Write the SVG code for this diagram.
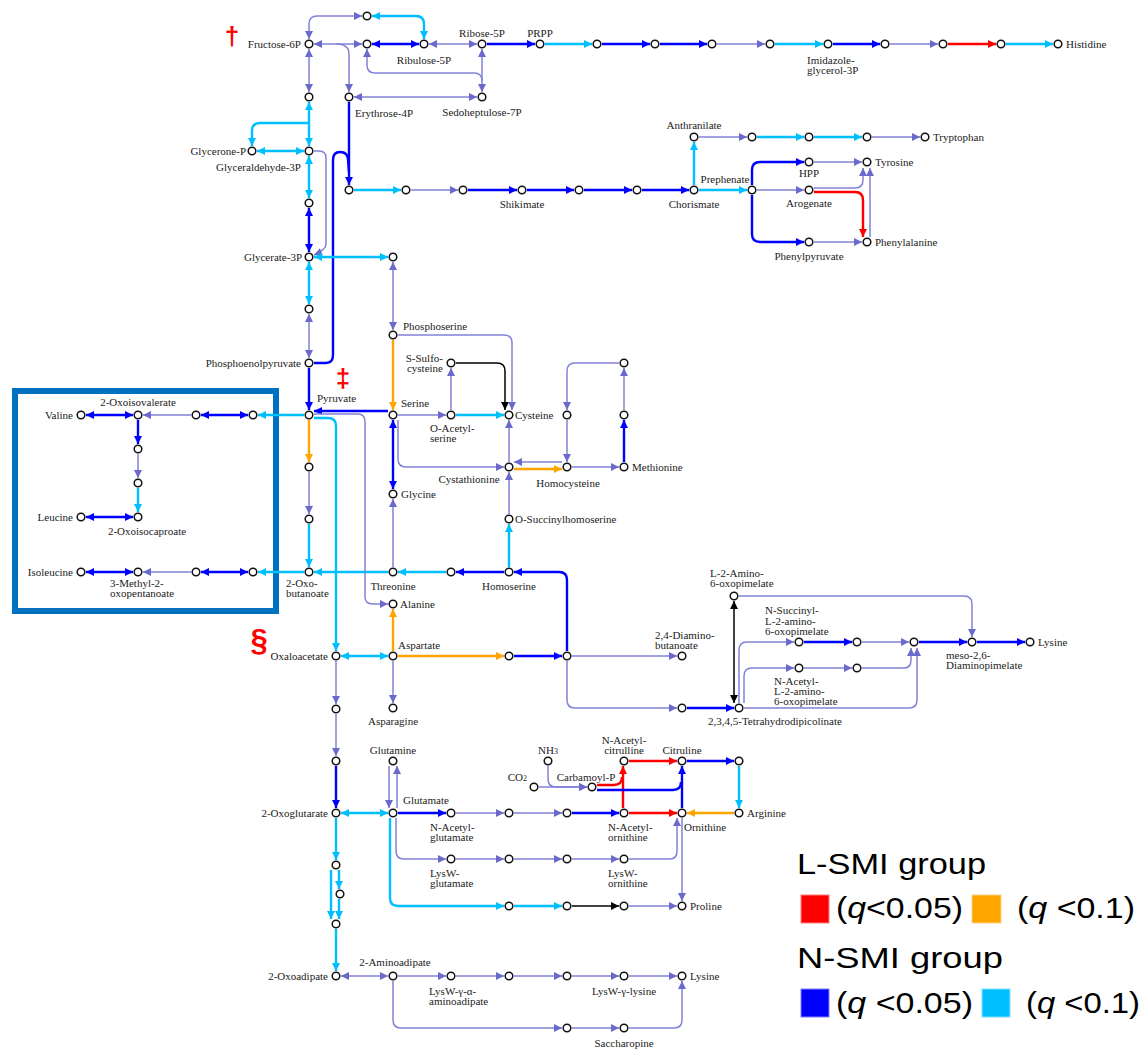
<svg xmlns="http://www.w3.org/2000/svg" width="1148" height="1049" viewBox="0 0 1148 1049">
<style>
.p{stroke:#8282d8;stroke-width:1.5;fill:none;marker-end:url(#aP)}
.b{stroke:#0000ff;stroke-width:2.4;fill:none;marker-end:url(#aB)}
.c{stroke:#00bfff;stroke-width:2.4;fill:none;marker-end:url(#aC)}
.r{stroke:#ff0000;stroke-width:2.4;fill:none;marker-end:url(#aR)}
.o{stroke:#ffa500;stroke-width:2.4;fill:none;marker-end:url(#aO)}
.k{stroke:#000;stroke-width:1.5;fill:none;marker-end:url(#aK)}
.p.bi{marker-start:url(#aP)}
.b.bi{marker-start:url(#aB)}
.c.bi{marker-start:url(#aC)}
.k.bi{marker-start:url(#aK)}
.ne{marker-end:none}
circle{fill:#fff;stroke:#111;stroke-width:1.5}
text{font-family:"Liberation Serif",serif;font-size:11px;fill:#222}
.e{text-anchor:end}
.m{text-anchor:middle}
text.sym{font-family:"Liberation Sans",sans-serif;fill:#ff0000;text-anchor:middle;font-weight:bold}
text.s1{font-size:26px}
text.s2{font-size:31px}
text.lg{font-family:"Liberation Sans",sans-serif;font-size:30px;fill:#000}
</style>
<defs>
<marker id="aP" viewBox="0 0 10 10" refX="10" refY="5" markerWidth="9" markerHeight="8" markerUnits="userSpaceOnUse" orient="auto-start-reverse"><path d="M0,0 L10,5 L0,10 z" fill="#6a6acd"/></marker>
<marker id="aB" viewBox="0 0 10 10" refX="10" refY="5" markerWidth="9" markerHeight="8" markerUnits="userSpaceOnUse" orient="auto-start-reverse"><path d="M0,0 L10,5 L0,10 z" fill="#0000ff"/></marker>
<marker id="aC" viewBox="0 0 10 10" refX="10" refY="5" markerWidth="9" markerHeight="8" markerUnits="userSpaceOnUse" orient="auto-start-reverse"><path d="M0,0 L10,5 L0,10 z" fill="#00bfff"/></marker>
<marker id="aR" viewBox="0 0 10 10" refX="10" refY="5" markerWidth="9" markerHeight="8" markerUnits="userSpaceOnUse" orient="auto-start-reverse"><path d="M0,0 L10,5 L0,10 z" fill="#ff0000"/></marker>
<marker id="aO" viewBox="0 0 10 10" refX="10" refY="5" markerWidth="9" markerHeight="8" markerUnits="userSpaceOnUse" orient="auto-start-reverse"><path d="M0,0 L10,5 L0,10 z" fill="#ffa500"/></marker>
<marker id="aK" viewBox="0 0 10 10" refX="10" refY="5" markerWidth="9" markerHeight="8" markerUnits="userSpaceOnUse" orient="auto-start-reverse"><path d="M0,0 L10,5 L0,10 z" fill="#000"/></marker>
</defs>
<rect width="1148" height="1049" fill="#fff"/>
<rect id="bcaa-box" x="15" y="391" width="261" height="220" fill="none" stroke="#0070c0" stroke-width="6"/>
<g id="connectors">
<path class="p bi" d="M309,39 L309,24 Q309,16 317,16 L362,16"/>
<path class="c bi" d="M372,16 L416,16 Q424,16 424,24 L424,39"/>
<path class="p bi" d="M314,44 L362,44"/>
<path class="p" d="M336,44 Q349,44 349,54 L349,92"/>
<path class="b bi" d="M372,44 L419,44"/>
<path class="p bi" d="M429,44 L477,44"/>
<path class="b" d="M487,44 L535,44"/>
<path class="c" d="M545,44 L592,44"/>
<path class="b" d="M602,44 L650,44"/>
<path class="b" d="M660,44 L707,44"/>
<path class="p" d="M717,44 L765,44"/>
<path class="c" d="M775,44 L823,44"/>
<path class="b" d="M833,44 L880,44"/>
<path class="p" d="M890,44 L938,44"/>
<path class="r" d="M948,44 L996,44"/>
<path class="c" d="M1006,44 L1053,44"/>
<path class="p bi" d="M482,49 L482,92"/>
<path class="p bi ne" d="M367,49 L367,65 Q367,73 375,73 L474,73 Q482,73 482,81"/>
<path class="p bi" d="M354,97 L477,97"/>
<path class="p bi" d="M309,49 L309,92"/>
<path class="c bi" d="M309,102 L309,146"/>
<path class="c" d="M309,123 L260,123 Q252,123 252,131 L252,146"/>
<path class="c bi" d="M257,151 L304,151"/>
<path class="c bi" d="M309,156 L309,198"/>
<path class="b bi" d="M309,208 L309,252"/>
<path class="p" d="M314,151 L319,151 Q326,151 326,158 L326,244 Q326,250 314,255"/>
<path class="b" d="M349,102 L349,185"/>
<path class="b ne" d="M314,363 L326,363 Q333,363 333,355 L333,160 Q333,152 340,152 Q348,152 348,160 L349,172"/>
<path class="c" d="M354,190 L401,190"/>
<path class="p" d="M411,190 L458,190"/>
<path class="b" d="M468,190 L517,190"/>
<path class="b" d="M527,190 L574,190"/>
<path class="b" d="M584,190 L632,190"/>
<path class="b" d="M642,190 L689,190"/>
<path class="c" d="M699,190 L747,190"/>
<path class="c" d="M694,185 L694,142"/>
<path class="p" d="M699,137 L747,137"/>
<path class="c" d="M757,137 L804,137"/>
<path class="c" d="M814,137 L862,137"/>
<path class="p" d="M872,137 L920,137"/>
<path class="b" d="M752,185 L752,170 Q752,162 760,162 L804,162"/>
<path class="b" d="M752,195 L752,234 Q752,242 760,242 L804,242"/>
<path class="p" d="M757,190 L804,190"/>
<path class="p" d="M814,162 L862,162"/>
<path class="p" d="M814,188 L855,188 Q863,188 863,180 L863,168"/>
<path class="r" d="M814,192 L855,192 Q863,192 863,200 L863,237"/>
<path class="p" d="M870,237 L870,168"/>
<path class="p" d="M814,242 L862,242"/>
<path class="c bi" d="M309,262 L309,304"/>
<path class="p bi" d="M309,314 L309,358"/>
<path class="c bi" d="M314,257 L388,257"/>
<path class="p bi" d="M393,262 L393,330"/>
<path class="b" d="M309,368 L309,410"/>
<path class="b" d="M388,411 L314,411"/>
<path class="c" d="M304,415 L258,415"/>
<path class="b bi" d="M248,415 L201,415"/>
<path class="p" d="M191,415 L143,415"/>
<path class="b bi" d="M133,415 L86,415"/>
<path class="b" d="M138,420 L138,444"/>
<path class="p" d="M138,454 L138,478"/>
<path class="c" d="M138,488 L138,512"/>
<path class="b bi" d="M133,517 L86,517"/>
<path class="o" d="M309,420 L309,462"/>
<path class="p" d="M309,472 L309,514"/>
<path class="c" d="M309,524 L309,567"/>
<path class="c" d="M304,572 L258,572"/>
<path class="b bi" d="M248,572 L201,572"/>
<path class="p" d="M191,572 L143,572"/>
<path class="b bi" d="M133,572 L86,572"/>
<path class="c" d="M388,572 L314,572"/>
<path class="c" d="M314,418 L328,418 Q336,418 336,426 L336,651"/>
<path class="p" d="M314,414 L358,414 Q365,414 365,422 L365,597 Q365,604 373,604 L388,604"/>
<path class="o" d="M393,340 L393,410"/>
<path class="p" d="M398,415 L446,415"/>
<path class="c" d="M456,415 L504,415"/>
<path class="p" d="M451,410 L451,368"/>
<path class="k" d="M456,363 L497,363 Q505,363 505,371 L505,410"/>
<path class="p" d="M398,335 L504,335 Q512,335 512,343 L512,410"/>
<path class="b bi" d="M393,420 L393,489"/>
<path class="p" d="M398,420 L398,459 Q398,467 406,467 L504,467"/>
<path class="p" d="M509,462 L509,420"/>
<path class="o" d="M514,469 L562,469"/>
<path class="p" d="M562,462 L514,462"/>
<path class="p" d="M572,467 L619,467"/>
<path class="b" d="M624,462 L624,420"/>
<path class="p" d="M624,410 L624,368"/>
<path class="p" d="M619,363 L575,363 Q567,363 567,371 L567,410"/>
<path class="p" d="M567,420 L567,462"/>
<path class="p" d="M509,514 L509,472"/>
<path class="c" d="M509,567 L509,524"/>
<path class="b" d="M504,572 L456,572"/>
<path class="c" d="M446,572 L398,572"/>
<path class="p" d="M393,567 L393,499"/>
<path class="b" d="M567,651 L567,580 Q567,572 559,572 L514,572"/>
<path class="o" d="M393,651 L393,609"/>
<path class="o" d="M398,656 L504,656"/>
<path class="b" d="M514,656 L562,656"/>
<path class="p" d="M572,656 L677,656"/>
<path class="p" d="M393,661 L393,703"/>
<path class="c bi" d="M341,656 L388,656"/>
<path class="p" d="M567,661 L567,700 Q567,708 575,708 L677,708"/>
<path class="b" d="M687,708 L734,708"/>
<path class="k bi" d="M734,601 L734,703"/>
<path class="p" d="M739,596 L964,596 Q972,596 972,604 L972,637"/>
<path class="p" d="M739,703 L739,650 Q739,642 747,642 L794,642"/>
<path class="p" d="M744,703 L744,676 Q744,668 752,668 L794,668"/>
<path class="b" d="M804,642 L852,642"/>
<path class="p" d="M862,642 L909,642"/>
<path class="b" d="M919,642 L967,642"/>
<path class="b" d="M977,642 L1025,642"/>
<path class="p" d="M804,668 L852,668"/>
<path class="p" d="M862,668 L904,668 Q911,668 911,660 L911,648"/>
<path class="p" d="M744,708 L909,708 Q917,708 917,700 L917,648"/>
<path class="p" d="M336,661 L336,704"/>
<path class="p" d="M336,714 L336,756"/>
<path class="b" d="M336,766 L336,808"/>
<path class="c bi" d="M341,813 L388,813"/>
<path class="p" d="M389,766 L389,808"/>
<path class="p" d="M397,808 L397,766"/>
<path class="c" d="M336,818 L336,860"/>
<path class="c" d="M339,870 L339,889"/>
<path class="c" d="M339,899 L339,919"/>
<path class="c" d="M331,870 L331,919"/>
<path class="c" d="M336,929 L336,971"/>
<path class="p bi" d="M341,976 L388,976"/>
<path class="p" d="M398,976 L446,976"/>
<path class="p" d="M456,976 L504,976"/>
<path class="p" d="M514,976 L562,976"/>
<path class="p" d="M572,976 L619,976"/>
<path class="p" d="M629,976 L677,976"/>
<path class="p" d="M393,981 L393,1020 Q393,1028 401,1028 L562,1028"/>
<path class="p" d="M572,1028 L619,1028"/>
<path class="p" d="M629,1028 L674,1028 Q682,1028 682,1020 L682,981"/>
<path class="b" d="M398,813 L446,813"/>
<path class="p" d="M456,813 L504,813"/>
<path class="p" d="M514,813 L562,813"/>
<path class="b" d="M572,813 L619,813"/>
<path class="r" d="M629,813 L677,813"/>
<path class="o" d="M734,813 L687,813"/>
<path class="p" d="M396,818 L396,851 Q396,859 404,859 L446,859"/>
<path class="p" d="M456,859 L504,859"/>
<path class="p" d="M514,859 L562,859"/>
<path class="p" d="M572,859 L619,859"/>
<path class="p" d="M629,859 L670,859 Q677,859 677,851 L677,818"/>
<path class="c" d="M390,818 L390,898 Q390,906 398,906 L504,906"/>
<path class="c" d="M514,906 L562,906"/>
<path class="k" d="M572,906 L619,906"/>
<path class="p" d="M629,906 L677,906"/>
<path class="p" d="M682,818 L682,901"/>
<path class="r" d="M623,808 L623,766"/>
<path class="r ne" d="M597,785 L614,785 Q622,785 622,777"/>
<path class="r" d="M629,761 L677,761"/>
<path class="b" d="M682,808 L682,766"/>
<path class="b ne" d="M597,790 L673,790 Q681,790 681,782"/>
<path class="b" d="M687,761 L734,761"/>
<path class="c" d="M739,766 L739,808"/>
<path class="p" d="M548,766 L548,779 Q548,787 556,787 L587,787"/>
<path class="p" d="M539,787 L587,787"/>
</g>
<g id="nodes">
<g id="n1"><circle cx="367" cy="16" r="3.8"/></g>
<g id="fru"><circle cx="309" cy="44" r="3.8"/><text class="e" x="301" y="48">Fructose-6P</text></g>
<g id="n2"><circle cx="367" cy="44" r="3.8"/></g>
<g id="rbl"><circle cx="424" cy="44" r="3.8"/><text class="m" x="424" y="64">Ribulose-5P</text></g>
<g id="rib"><circle cx="482" cy="44" r="3.8"/><text class="m" x="482" y="37">Ribose-5P</text></g>
<g id="prpp"><circle cx="540" cy="44" r="3.8"/><text class="m" x="540" y="37">PRPP</text></g>
<g id="h1"><circle cx="597" cy="44" r="3.8"/></g>
<g id="h2"><circle cx="655" cy="44" r="3.8"/></g>
<g id="h3"><circle cx="712" cy="44" r="3.8"/></g>
<g id="h4"><circle cx="770" cy="44" r="3.8"/></g>
<g id="igp"><circle cx="828" cy="44" r="3.8"/><text x="807" y="64">Imidazole-<tspan x="807" dy="10">glycerol-3P</tspan></text></g>
<g id="h5"><circle cx="885" cy="44" r="3.8"/></g>
<g id="h6"><circle cx="943" cy="44" r="3.8"/></g>
<g id="h7"><circle cx="1001" cy="44" r="3.8"/></g>
<g id="his"><circle cx="1058" cy="44" r="3.8"/><text x="1066" y="48">Histidine</text></g>
<g id="n3"><circle cx="309" cy="97" r="3.8"/></g>
<g id="ery"><circle cx="349" cy="97" r="3.8"/><text x="355" y="117">Erythrose-4P</text></g>
<g id="sed"><circle cx="482" cy="97" r="3.8"/><text class="m" x="482" y="116">Sedoheptulose-7P</text></g>
<g id="gnp"><circle cx="252" cy="151" r="3.8"/><text class="e" x="246" y="155">Glycerone-P</text></g>
<g id="gap"><circle cx="309" cy="151" r="3.8"/><text class="e" x="301" y="171">Glyceraldehyde-3P</text></g>
<g id="s0"><circle cx="349" cy="190" r="3.8"/></g>
<g id="s1"><circle cx="406" cy="190" r="3.8"/></g>
<g id="s2"><circle cx="463" cy="190" r="3.8"/></g>
<g id="shk"><circle cx="522" cy="190" r="3.8"/><text class="m" x="522" y="208">Shikimate</text></g>
<g id="s3"><circle cx="579" cy="190" r="3.8"/></g>
<g id="s4"><circle cx="637" cy="190" r="3.8"/></g>
<g id="cho"><circle cx="694" cy="190" r="3.8"/><text class="m" x="694" y="208">Chorismate</text></g>
<g id="pre"><circle cx="752" cy="190" r="3.8"/><text class="m" x="725" y="183">Prephenate</text></g>
<g id="ant"><circle cx="694" cy="137" r="3.8"/><text class="m" x="694" y="129">Anthranilate</text></g>
<g id="t1"><circle cx="752" cy="137" r="3.8"/></g>
<g id="t2"><circle cx="809" cy="137" r="3.8"/></g>
<g id="t3"><circle cx="867" cy="137" r="3.8"/></g>
<g id="trp"><circle cx="925" cy="137" r="3.8"/><text x="933" y="141">Tryptophan</text></g>
<g id="hpp"><circle cx="809" cy="162" r="3.8"/><text class="m" x="809" y="177">HPP</text></g>
<g id="tyr"><circle cx="867" cy="162" r="3.8"/><text x="875" y="166">Tyrosine</text></g>
<g id="aro"><circle cx="809" cy="190" r="3.8"/><text class="m" x="809" y="207">Arogenate</text></g>
<g id="ppy"><circle cx="809" cy="242" r="3.8"/><text class="m" x="809" y="260">Phenylpyruvate</text></g>
<g id="phe"><circle cx="867" cy="242" r="3.8"/><text x="875" y="246">Phenylalanine</text></g>
<g id="n4"><circle cx="309" cy="203" r="3.8"/></g>
<g id="g3p"><circle cx="309" cy="257" r="3.8"/><text class="e" x="302" y="261">Glycerate-3P</text></g>
<g id="n5"><circle cx="393" cy="257" r="3.8"/></g>
<g id="n6"><circle cx="309" cy="309" r="3.8"/></g>
<g id="pep"><circle cx="309" cy="363" r="3.8"/><text class="e" x="301" y="367">Phosphoenolpyruvate</text></g>
<g id="pyr"><circle cx="309" cy="415" r="3.8"/><text x="317" y="402">Pyruvate</text></g>
<g id="v4"><circle cx="253" cy="415" r="3.8"/></g>
<g id="v3"><circle cx="196" cy="415" r="3.8"/></g>
<g id="oiv"><circle cx="138" cy="415" r="3.8"/><text class="m" x="138" y="406">2-Oxoisovalerate</text></g>
<g id="val"><circle cx="81" cy="415" r="3.8"/><text class="e" x="73" y="419">Valine</text></g>
<g id="l1"><circle cx="138" cy="449" r="3.8"/></g>
<g id="l2"><circle cx="138" cy="483" r="3.8"/></g>
<g id="oic"><circle cx="138" cy="517" r="3.8"/><text class="m" x="147" y="535">2-Oxoisocaproate</text></g>
<g id="leu"><circle cx="81" cy="517" r="3.8"/><text class="e" x="73" y="521">Leucine</text></g>
<g id="b1"><circle cx="309" cy="467" r="3.8"/></g>
<g id="b2"><circle cx="309" cy="519" r="3.8"/></g>
<g id="obu"><circle cx="309" cy="572" r="3.8"/><text x="286" y="587">2-Oxo-<tspan x="286" dy="10">butanoate</tspan></text></g>
<g id="i4"><circle cx="253" cy="572" r="3.8"/></g>
<g id="i3"><circle cx="196" cy="572" r="3.8"/></g>
<g id="mop"><circle cx="138" cy="572" r="3.8"/><text x="110" y="587">3-Methyl-2-<tspan x="110" dy="10">oxopentanoate</tspan></text></g>
<g id="ile"><circle cx="81" cy="572" r="3.8"/><text class="e" x="73" y="576">Isoleucine</text></g>
<g id="psr"><circle cx="393" cy="335" r="3.8"/><text x="403" y="330">Phosphoserine</text></g>
<g id="ssc"><circle cx="451" cy="363" r="3.8"/><text class="e" x="443" y="362">S-Sulfo-<tspan x="443" dy="10">cysteine</tspan></text></g>
<g id="ser"><circle cx="393" cy="415" r="3.8"/><text x="401" y="407">Serine</text></g>
<g id="oas"><circle cx="451" cy="415" r="3.8"/><text x="430" y="432">O-Acetyl-<tspan x="430" dy="10">serine</tspan></text></g>
<g id="cys"><circle cx="509" cy="415" r="3.8"/><text x="515" y="419">Cysteine</text></g>
<g id="m1"><circle cx="567" cy="415" r="3.8"/></g>
<g id="m2"><circle cx="624" cy="415" r="3.8"/></g>
<g id="m3"><circle cx="624" cy="363" r="3.8"/></g>
<g id="cth"><circle cx="509" cy="467" r="3.8"/><text class="m" x="469" y="483">Cystathionine</text></g>
<g id="hcy"><circle cx="567" cy="467" r="3.8"/><text class="m" x="568" y="487">Homocysteine</text></g>
<g id="met"><circle cx="624" cy="467" r="3.8"/><text x="632" y="471">Methionine</text></g>
<g id="gly"><circle cx="393" cy="494" r="3.8"/><text x="401" y="498">Glycine</text></g>
<g id="osh"><circle cx="509" cy="519" r="3.8"/><text x="515" y="523">O-Succinylhomoserine</text></g>
<g id="thr"><circle cx="393" cy="572" r="3.8"/><text class="m" x="393" y="590">Threonine</text></g>
<g id="th1"><circle cx="451" cy="572" r="3.8"/></g>
<g id="hse"><circle cx="509" cy="572" r="3.8"/><text class="m" x="509" y="590">Homoserine</text></g>
<g id="ala"><circle cx="393" cy="604" r="3.8"/><text x="400" y="608">Alanine</text></g>
<g id="oaa"><circle cx="336" cy="656" r="3.8"/><text class="e" x="328" y="660">Oxaloacetate</text></g>
<g id="asp"><circle cx="393" cy="656" r="3.8"/><text x="398" y="649">Aspartate</text></g>
<g id="a1"><circle cx="509" cy="656" r="3.8"/></g>
<g id="a2"><circle cx="567" cy="656" r="3.8"/></g>
<g id="dab"><circle cx="682" cy="656" r="3.8"/><text x="655" y="639">2,4-Diamino-<tspan x="655" dy="10">butanoate</tspan></text></g>
<g id="asn"><circle cx="393" cy="708" r="3.8"/><text class="m" x="393" y="725">Asparagine</text></g>
<g id="a3"><circle cx="682" cy="708" r="3.8"/></g>
<g id="thd"><circle cx="739" cy="708" r="3.8"/><text x="708" y="725">2,3,4,5-Tetrahydrodipicolinate</text></g>
<g id="lao"><circle cx="734" cy="596" r="3.8"/><text x="710" y="577">L-2-Amino-<tspan x="710" dy="10">6-oxopimelate</tspan></text></g>
<g id="nsu"><circle cx="799" cy="642" r="3.8"/><text x="765" y="614">N-Succinyl-<tspan x="765" dy="10.5">L-2-amino-</tspan><tspan x="765" dy="10.5">6-oxopimelate</tspan></text></g>
<g id="k2"><circle cx="857" cy="642" r="3.8"/></g>
<g id="k3"><circle cx="914" cy="642" r="3.8"/></g>
<g id="dap"><circle cx="972" cy="642" r="3.8"/><text x="946" y="659">meso-2,6-<tspan x="946" dy="10">Diaminopimelate</tspan></text></g>
<g id="lys1"><circle cx="1030" cy="642" r="3.8"/><text x="1038" y="646">Lysine</text></g>
<g id="nac"><circle cx="799" cy="668" r="3.8"/><text x="774" y="685">N-Acetyl-<tspan x="774" dy="10">L-2-amino-</tspan><tspan x="774" dy="10">6-oxopimelate</tspan></text></g>
<g id="k5"><circle cx="857" cy="668" r="3.8"/></g>
<g id="c1"><circle cx="336" cy="709" r="3.8"/></g>
<g id="c2"><circle cx="336" cy="761" r="3.8"/></g>
<g id="ogl"><circle cx="336" cy="813" r="3.8"/><text class="e" x="328" y="817">2-Oxoglutarate</text></g>
<g id="d1"><circle cx="336" cy="865" r="3.8"/></g>
<g id="d2"><circle cx="340" cy="894" r="3.8"/></g>
<g id="d3"><circle cx="336" cy="924" r="3.8"/></g>
<g id="oad"><circle cx="336" cy="976" r="3.8"/><text class="e" x="328" y="980">2-Oxoadipate</text></g>
<g id="gln"><circle cx="393" cy="761" r="3.8"/><text class="m" x="393" y="754">Glutamine</text></g>
<g id="nh3"><circle cx="548" cy="761" r="3.8"/><text class="m" x="548" y="754">NH<tspan font-size="8">3</tspan></text></g>
<g id="nacit"><circle cx="624" cy="761" r="3.8"/><text class="m" x="624" y="744">N-Acetyl-<tspan x="624" dy="10">citrulline</tspan></text></g>
<g id="cit"><circle cx="682" cy="761" r="3.8"/><text class="m" x="682" y="754">Citruline</text></g>
<g id="r1"><circle cx="739" cy="761" r="3.8"/></g>
<g id="co2"><circle cx="534" cy="787" r="3.8"/><text class="e" x="527" y="781">CO<tspan font-size="8">2</tspan></text></g>
<g id="cbp"><circle cx="592" cy="787" r="3.8"/><text class="m" x="586" y="781">Carbamoyl-P</text></g>
<g id="glu"><circle cx="393" cy="813" r="3.8"/><text x="403" y="804">Glutamate</text></g>
<g id="nag"><circle cx="451" cy="813" r="3.8"/><text x="430" y="831">N-Acetyl-<tspan x="430" dy="10">glutamate</tspan></text></g>
<g id="e2"><circle cx="509" cy="813" r="3.8"/></g>
<g id="e3"><circle cx="567" cy="813" r="3.8"/></g>
<g id="nao"><circle cx="624" cy="813" r="3.8"/><text x="608" y="831">N-Acetyl-<tspan x="608" dy="10">ornithine</tspan></text></g>
<g id="orn"><circle cx="682" cy="813" r="3.8"/><text x="684" y="831">Ornithine</text></g>
<g id="arg"><circle cx="739" cy="813" r="3.8"/><text x="747" y="817">Arginine</text></g>
<g id="lg"><circle cx="451" cy="859" r="3.8"/><text x="430" y="877">LysW-<tspan x="430" dy="10">glutamate</tspan></text></g>
<g id="w2"><circle cx="509" cy="859" r="3.8"/></g>
<g id="w3"><circle cx="567" cy="859" r="3.8"/></g>
<g id="lo"><circle cx="624" cy="859" r="3.8"/><text x="608" y="877">LysW-<tspan x="608" dy="10">ornithine</tspan></text></g>
<g id="p1"><circle cx="509" cy="906" r="3.8"/></g>
<g id="p2"><circle cx="567" cy="906" r="3.8"/></g>
<g id="p3"><circle cx="624" cy="906" r="3.8"/></g>
<g id="pro"><circle cx="682" cy="906" r="3.8"/><text x="690" y="910">Proline</text></g>
<g id="aad"><circle cx="393" cy="976" r="3.8"/><text class="m" x="395" y="966">2-Aminoadipate</text></g>
<g id="lwa"><circle cx="451" cy="976" r="3.8"/><text x="429" y="995">LysW-γ-α-<tspan x="429" dy="10">aminoadipate</tspan></text></g>
<g id="y2"><circle cx="509" cy="976" r="3.8"/></g>
<g id="y3"><circle cx="567" cy="976" r="3.8"/></g>
<g id="lwl"><circle cx="624" cy="976" r="3.8"/><text class="m" x="624" y="995">LysW-γ-lysine</text></g>
<g id="lys2"><circle cx="682" cy="976" r="3.8"/><text x="690" y="980">Lysine</text></g>
<g id="sc1"><circle cx="567" cy="1028" r="3.8"/></g>
<g id="sac"><circle cx="624" cy="1028" r="3.8"/><text class="m" x="624" y="1047">Saccharopine</text></g>
</g>
<g id="marks">
<text class="sym s1" x="232" y="45">†</text>
<text class="sym s1" x="343" y="387">‡</text>
<text class="sym s2" x="259" y="651">§</text>
</g>
<g id="legend">
<text class="lg" x="797" y="874" textLength="189" lengthAdjust="spacingAndGlyphs">L-SMI group</text>
<rect x="801" y="895" width="28" height="28" fill="#ff0000" stroke="#ff8080" stroke-width="1"/>
<text class="lg" x="836" y="918" textLength="127" lengthAdjust="spacingAndGlyphs">(<tspan font-style="italic">q</tspan>&lt;0.05)</text>
<rect x="972" y="895" width="29" height="28" fill="#ffa500" stroke="#ffd080" stroke-width="1"/>
<text class="lg" x="1017" y="918" textLength="118" lengthAdjust="spacingAndGlyphs">(<tspan font-style="italic">q</tspan> &lt;0.1)</text>
<text class="lg" x="797" y="968" textLength="206" lengthAdjust="spacingAndGlyphs">N-SMI  group</text>
<rect x="801" y="989" width="28" height="28" fill="#0000ff" stroke="#8080ff" stroke-width="1"/>
<text class="lg" x="836" y="1013" textLength="137" lengthAdjust="spacingAndGlyphs">(<tspan font-style="italic">q</tspan> &lt;0.05)</text>
<rect x="982" y="989" width="28" height="28" fill="#00bfff" stroke="#80e0ff" stroke-width="1"/>
<text class="lg" x="1026" y="1013" textLength="114" lengthAdjust="spacingAndGlyphs">(<tspan font-style="italic">q</tspan> &lt;0.1)</text>
</g>
</svg>
